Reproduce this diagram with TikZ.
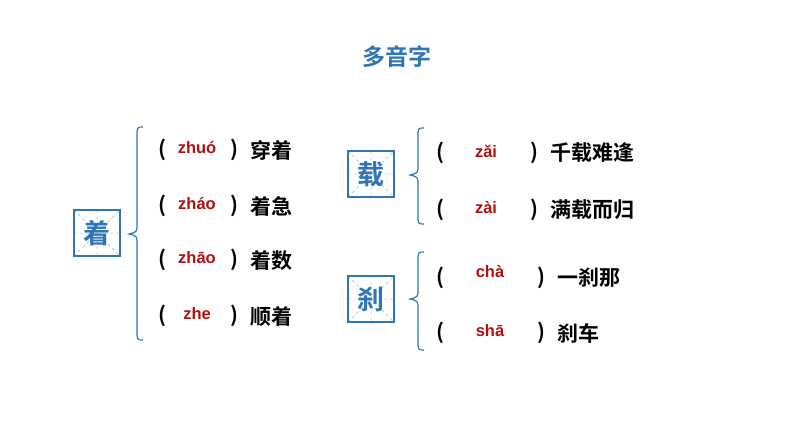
\documentclass[tikz,border=0pt]{standalone}
\usepackage{fontspec}
\newfontfamily\cjk{Noto Sans CJK SC Bold}
\newfontfamily\pyfont{Liberation Sans Bold}
\begin{document}
\begin{tikzpicture}[x=1pt,y=-1pt,
  word/.style={font=\cjk\fontsize{21}{21}\selectfont, anchor=west, inner sep=0},
  par/.style={font=\cjk\fontsize{21}{21}\selectfont, inner sep=0},
  pin/.style={font=\pyfont\fontsize{16.5}{16.5}\selectfont, text=pyred, inner sep=0},
  brc/.style={draw=bblue, line width=1.2pt},
  gridbox/.style={draw=bblue, line width=1.6pt, minimum size=46pt, inner sep=0, font=\cjk\fontsize{27}{27}\selectfont, text=bblue}]
\definecolor{bblue}{HTML}{2E75B6}
\definecolor{pyred}{HTML}{B01010}
\useasboundingbox (0,0) rectangle (794,447);
\node[font=\cjk\fontsize{23}{23}\selectfont, text=bblue] (title) at (397,57) {多音字};
% grid boxes
\foreach \n/\cx/\cy/\ch in {b1/97/233/着, b2/371/174/载, b3/371/299/刹}{
  \draw[bblue!50, dashed, line width=0.5pt] (\cx-23,\cy) -- (\cx+23,\cy) (\cx,\cy-23) -- (\cx,\cy+23)
     (\cx-23,\cy-23) -- (\cx+23,\cy+23) (\cx-23,\cy+23) -- (\cx+23,\cy-23);
  \node[gridbox] (\n) at (\cx,\cy) {\ch};
}
% braces
\newcommand\mybrace[4]{% x top mid bottom
 \draw[brc] (#1+6,#2) .. controls (#1,#2) .. (#1,#2+10) -- (#1,#3-10) .. controls (#1,#3-2) .. (#1-8,#3)
   .. controls (#1,#3+2) .. (#1,#3+10) -- (#1,#4-10) .. controls (#1,#4) .. (#1+6,#4);}
\mybrace{137}{127}{234}{340}
\mybrace{418}{128}{175}{224}
\mybrace{418}{252}{299}{350}
% left rows
\foreach \i/\y/\p/\w in {1/150/zhuó/穿着, 2/206/zháo/着急, 3/260/zhāo/着数, 4/316/zhe/顺着}{
  \node[par] (lo\i) at (162,\y) {(};
  \node[par] (lc\i) at (234,\y) {)};
  \node[pin] (lp\i) at (197,\y-2) {\p};
  \node[word] (lw\i) at (250,\y) {\w};
}
% right rows
\foreach \i/\y/\yp/\xp/\xc/\xw/\p/\w in {1/153/151/486/534/550/zǎi/千载难逢, 2/210/208/486/534/550/zài/满载而归, 3/278/272/490/541/557/chà/一刹那, 4/333/331/490/541/557/shā/刹车}{
  \node[par] (ro\i) at (440,\y) {(};
  \node[par] (rc\i) at (\xc,\y) {)};
  \node[pin] (rp\i) at (\xp,\yp) {\p};
  \node[word] (rw\i) at (\xw,\y) {\w};
}
\end{tikzpicture}
\end{document}
